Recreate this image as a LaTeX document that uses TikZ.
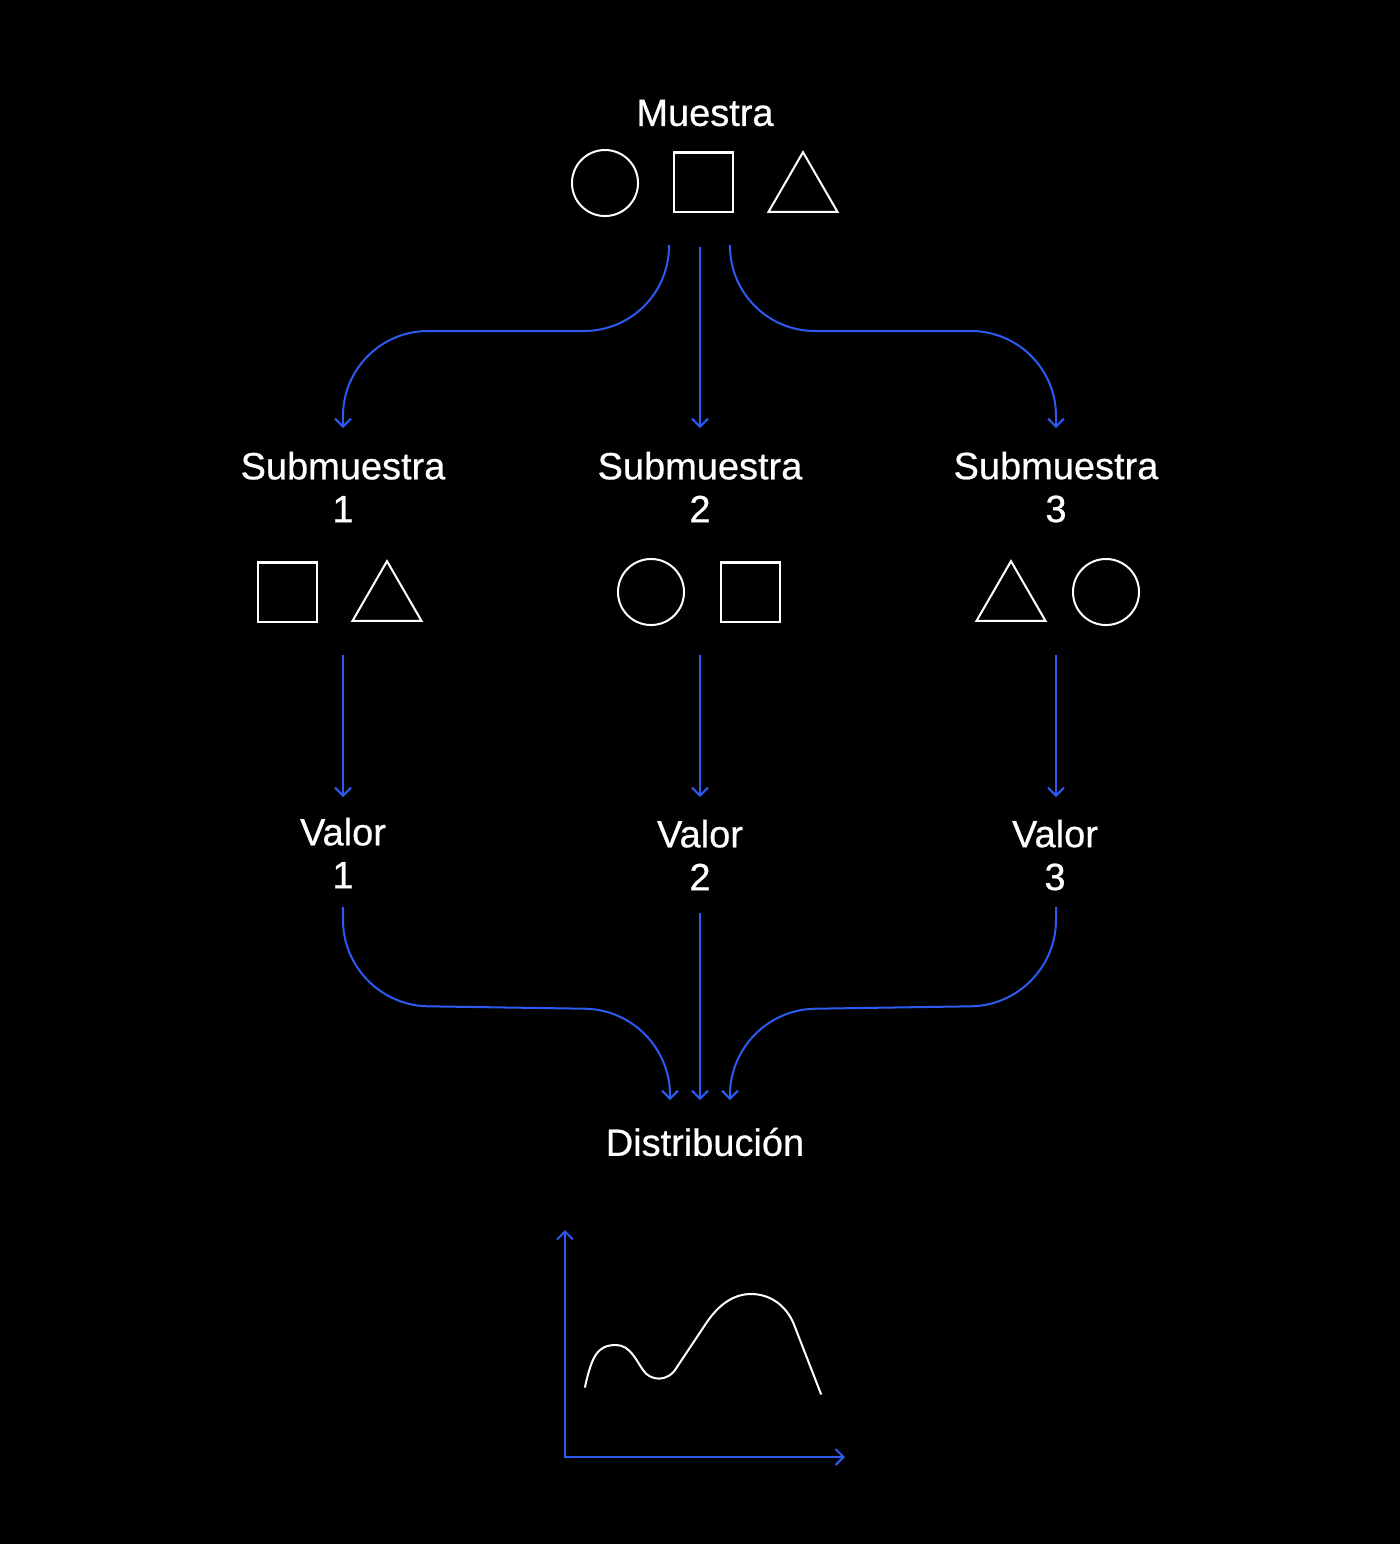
\documentclass[tikz,border=0pt]{standalone}
\usepackage{fontspec}
\setmainfont{Liberation Sans}
\newfontfamily\lblfont{Liberation Sans}[FakeBold=0.6]
\usetikzlibrary{shapes.geometric,arrows.meta,calc}
\definecolor{flowblue}{RGB}{45,90,240}
\tikzset{vtip/.tip={Straight Barb[length=0.8mm,width=1.6mm]}}

\begin{document}
\begin{tikzpicture}
[x=0.01cm,y=-0.01cm,
 lbl/.style={text=white,align=center,inner sep=0pt,font=\lblfont\fontsize{10.8}{12.2}\selectfont},
 shp/.style={draw=white,line width=0.57pt,inner sep=0pt},
 circ/.style={shp,circle,minimum size=0.66cm},
 sqr/.style={shp,rectangle,minimum size=0.59cm},
 tri/.style={shp,regular polygon,regular polygon sides=3,minimum size=0.797cm},
 flow/.style={draw=flowblue,line width=0.57pt,-{vtip},rounded corners=0.85cm}]
\fill[black] (0,0) rectangle (1400,1544);
\useasboundingbox (0,0) rectangle (1400,1544);

\node[lbl] (muestra) at (705,113) {Muestra};
\node[circ] (c0) at (605,183) {};
\node[sqr] (q0) at (703.5,182) {};
\node[tri] (t0) at (803,192) {};

\node[lbl] (sub1) at (343,487) {Submuestra\\1};
\node[lbl] (sub2) at (700,487) {Submuestra\\2};
\node[lbl] (sub3) at (1056,487) {Submuestra\\3};

\node[sqr] (q1) at (287.5,592) {};
\node[tri] (t1) at (387,601) {};
\node[circ] (c2) at (651,592) {};
\node[sqr] (q2) at (750.5,592) {};
\node[tri] (t3) at (1011,601) {};
\node[circ] (c3) at (1106,592) {};

\node[lbl] (val1) at (343,853) {Valor\\1};
\node[lbl] (val2) at (700,855) {Valor\\2};
\node[lbl] (val3) at (1055,855) {Valor\\3};

\node[lbl] (dist) at (705,1142) {Distribución};

\coordinate (m-l) at (669,245);
\coordinate (m-c) at (700,247);
\coordinate (m-r) at (730,245);
\coordinate (s1-in) at (343,428);
\coordinate (s2-in) at (700,428);
\coordinate (s3-in) at (1056,428);
\coordinate (s1-out) at (343,655);
\coordinate (s2-out) at (700,655);
\coordinate (s3-out) at (1056,655);
\coordinate (v1-in) at (343,797);
\coordinate (v2-in) at (700,797);
\coordinate (v3-in) at (1056,797);
\coordinate (v1-out) at (343,907);
\coordinate (v2-out) at (700,913);
\coordinate (v3-out) at (1056,907);
\coordinate (d-l) at (670,1100);
\coordinate (d-c) at (700,1100);
\coordinate (d-r) at (730,1100);

\draw[flow] (m-l) -- ++(0,86) -| (s1-in);
\draw[flow] (m-c) -- (s2-in);
\draw[flow] (m-r) -- ++(0,86) -| (s3-in);

\foreach \i in {1,2,3}
  \draw[flow] (s\i-out) -- (v\i-in);

\draw[flow] (v1-out) -- ++(0,98) -- ($(d-l)+(0,-90)$) -- (d-l);
\draw[flow] (v2-out) -- (d-c);
\draw[flow] (v3-out) -- ++(0,98) -- ($(d-r)+(0,-90)$) -- (d-r);

\coordinate (origin) at (565,1457);
\coordinate (ytip) at (565,1230);
\coordinate (xtip) at (845,1457);
\draw[draw=flowblue,line width=0.57pt,{vtip}-{vtip}] (ytip) -- (origin) -- (xtip);

\draw[white,line width=0.57pt,line cap=round]
  (585,1387) .. controls (592,1355) and (598,1345) .. (616,1345)
  .. controls (630,1345) and (636,1360) .. (643,1370)
  .. controls (650,1381) and (668,1383) .. (677,1367)
  -- (707,1322) .. controls (720,1303) and (735,1294) .. (751,1294)
  .. controls (770,1294) and (785,1305) .. (793,1322) -- (821,1394);
\end{tikzpicture}
\end{document}
